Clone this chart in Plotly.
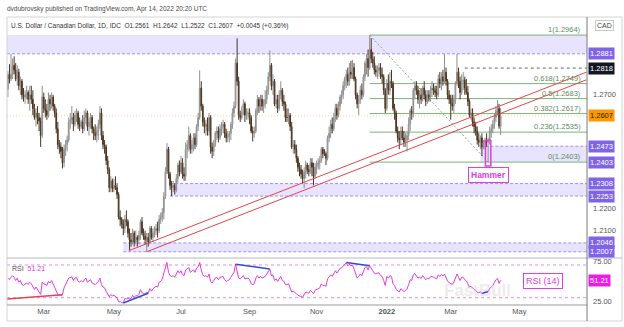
import pandas as pd
import plotly.graph_objects as go

# ---------------- USD/CAD daily candles (IDC) ----------------
dates = pd.bdate_range("2021-01-27", "2022-04-14")

opens = [
    # Jan 2021
    1.2725, 1.2790, 1.2770,
    # Feb 2021
    1.2790, 1.2830, 1.2810, 1.2770, 1.2800, 1.2740, 1.2760, 1.2700, 1.2690, 1.2700,
    1.2710, 1.2680, 1.2700, 1.2680, 1.2640, 1.2600, 1.2620, 1.2600, 1.2585, 1.2520,
    # Mar 2021
    1.2690, 1.2640, 1.2630, 1.2610, 1.2680, 1.2660, 1.2690, 1.2650, 1.2620, 1.2550,
    1.2480, 1.2470, 1.2450, 1.2400, 1.2460, 1.2480, 1.2500, 1.2580, 1.2590, 1.2600,
    1.2570, 1.2610, 1.2620,
    # Apr 2021
    1.2570, 1.2560, 1.2580, 1.2550, 1.2600, 1.2620, 1.2560, 1.2580, 1.2600, 1.2550,
    1.2530, 1.2520, 1.2540, 1.2570, 1.2620, 1.2520, 1.2480, 1.2470, 1.2410, 1.2370,
    1.2290, 1.2320,
    # May 2021
    1.2285, 1.2300, 1.2290, 1.2260, 1.2160, 1.2150, 1.2130, 1.2110, 1.2150, 1.2140,
    1.2090, 1.2060, 1.2050, 1.2090, 1.2050, 1.2070, 1.2060, 1.2080, 1.2140, 1.2090,
    1.2075,
    # Jun 2021
    1.2060, 1.2070, 1.2050, 1.2110, 1.2070, 1.2090, 1.2100, 1.2110, 1.2100, 1.2150,
    1.2160, 1.2180, 1.2250, 1.2360, 1.2460, 1.2350, 1.2300, 1.2290, 1.2300, 1.2280,
    1.2330, 1.2390,
    # Jul 2021
    1.2360, 1.2400, 1.2350, 1.2340, 1.2460, 1.2480, 1.2520, 1.2460, 1.2480, 1.2510,
    1.2480, 1.2560, 1.2600, 1.2730, 1.2650, 1.2580, 1.2560, 1.2570, 1.2540, 1.2600,
    1.2470, 1.2450,
    # Aug 2021
    1.2480, 1.2530, 1.2540, 1.2510, 1.2550, 1.2560, 1.2570, 1.2530, 1.2510, 1.2520,
    1.2530, 1.2570, 1.2620, 1.2650, 1.2840, 1.2760, 1.2610, 1.2600, 1.2620, 1.2660,
    1.2610, 1.2620,
    # Sep 2021
    1.2620, 1.2600, 1.2540, 1.2530, 1.2540, 1.2630, 1.2680, 1.2650, 1.2680, 1.2650,
    1.2660, 1.2680, 1.2720, 1.2780, 1.2830, 1.2740, 1.2760, 1.2660, 1.2680, 1.2640,
    1.2700, 1.2720,
    # Oct 2021
    1.2670, 1.2660, 1.2600, 1.2600, 1.2610, 1.2560, 1.2470, 1.2480, 1.2460, 1.2420,
    1.2380, 1.2370, 1.2350, 1.2330, 1.2360, 1.2390, 1.2370, 1.2360, 1.2400, 1.2380,
    1.2340,
    # Nov 2021
    1.2380, 1.2390, 1.2400, 1.2410, 1.2460, 1.2440, 1.2440, 1.2420, 1.2510, 1.2530,
    1.2570, 1.2550, 1.2600, 1.2640, 1.2610, 1.2650, 1.2690, 1.2700, 1.2740, 1.2770,
    1.2790, 1.2760,
    # Dec 2021
    1.2800, 1.2790, 1.2820, 1.2770, 1.2700, 1.2660, 1.2680, 1.2720, 1.2700, 1.2780,
    1.2840, 1.2860, 1.2820, 1.2900, 1.2860, 1.2840, 1.2810, 1.2800, 1.2810, 1.2820,
    1.2790, 1.2780, 1.2720,
    # Jan 2022
    1.2640, 1.2750, 1.2720, 1.2760, 1.2750, 1.2640, 1.2620, 1.2540, 1.2510, 1.2500,
    1.2540, 1.2510, 1.2490, 1.2500, 1.2520, 1.2570, 1.2630, 1.2620, 1.2720, 1.2740,
    1.2720,
    # Feb 2022
    1.2680, 1.2700, 1.2680, 1.2730, 1.2700, 1.2670, 1.2700, 1.2690, 1.2720, 1.2730,
    1.2720, 1.2710, 1.2700, 1.2770, 1.2750, 1.2780, 1.2760, 1.2800, 1.2760, 1.2700,
    # Mar 2022
    1.2680, 1.2660, 1.2650, 1.2680, 1.2750, 1.2800, 1.2760, 1.2710, 1.2760, 1.2765,
    1.2730, 1.2710, 1.2670, 1.2610, 1.2620, 1.2580, 1.2560, 1.2540, 1.2500, 1.2490,
    1.2510, 1.2470, 1.2490,
    # Apr 2022
    1.2500, 1.2490, 1.2500, 1.2540, 1.2550, 1.2570, 1.2600, 1.2630, 1.2640, 1.2561,
]

highs = [
    # Jan 2021
    1.2805, 1.2835, 1.2880,
    # Feb 2021
    1.2860, 1.2870, 1.2840, 1.2830, 1.2815, 1.2780, 1.2770, 1.2730, 1.2720, 1.2740,
    1.2720, 1.2740, 1.2740, 1.2720, 1.2660, 1.2640, 1.2650, 1.2620, 1.2600, 1.2740,
    # Mar 2021
    1.2710, 1.2680, 1.2660, 1.2710, 1.2700, 1.2710, 1.2700, 1.2660, 1.2640, 1.2580,
    1.2500, 1.2490, 1.2470, 1.2480, 1.2500, 1.2520, 1.2600, 1.2620, 1.2650, 1.2620,
    1.2630, 1.2640, 1.2630,
    # Apr 2021
    1.2600, 1.2590, 1.2610, 1.2630, 1.2640, 1.2630, 1.2600, 1.2620, 1.2610, 1.2560,
    1.2570, 1.2560, 1.2590, 1.2650, 1.2640, 1.2540, 1.2500, 1.2480, 1.2430, 1.2380,
    1.2340, 1.2330,
    # May 2021
    1.2330, 1.2340, 1.2310, 1.2270, 1.2190, 1.2160, 1.2150, 1.2170, 1.2190, 1.2150,
    1.2110, 1.2090, 1.2110, 1.2100, 1.2100, 1.2080, 1.2100, 1.2150, 1.2160, 1.2110,
    1.2100,
    # Jun 2021
    1.2090, 1.2090, 1.2120, 1.2120, 1.2110, 1.2120, 1.2130, 1.2140, 1.2170, 1.2180,
    1.2200, 1.2270, 1.2380, 1.2487, 1.2470, 1.2360, 1.2320, 1.2320, 1.2310, 1.2350,
    1.2400, 1.2410,
    # Jul 2021
    1.2430, 1.2420, 1.2380, 1.2490, 1.2500, 1.2560, 1.2530, 1.2500, 1.2530, 1.2530,
    1.2570, 1.2620, 1.2808, 1.2760, 1.2660, 1.2600, 1.2590, 1.2600, 1.2620, 1.2610,
    1.2490, 1.2500,
    # Aug 2021
    1.2540, 1.2560, 1.2560, 1.2570, 1.2580, 1.2590, 1.2580, 1.2550, 1.2540, 1.2540,
    1.2580, 1.2640, 1.2670, 1.2860, 1.2949, 1.2780, 1.2630, 1.2650, 1.2680, 1.2670,
    1.2640, 1.2640,
    # Sep 2021
    1.2640, 1.2610, 1.2560, 1.2560, 1.2640, 1.2700, 1.2690, 1.2700, 1.2700, 1.2680,
    1.2720, 1.2740, 1.2800, 1.2896, 1.2840, 1.2790, 1.2770, 1.2700, 1.2700, 1.2720,
    1.2760, 1.2730,
    # Oct 2021
    1.2700, 1.2670, 1.2640, 1.2640, 1.2620, 1.2580, 1.2500, 1.2500, 1.2480, 1.2430,
    1.2400, 1.2390, 1.2370, 1.2380, 1.2410, 1.2400, 1.2390, 1.2420, 1.2420, 1.2400,
    1.2400,
    # Nov 2021
    1.2410, 1.2420, 1.2430, 1.2470, 1.2470, 1.2460, 1.2450, 1.2520, 1.2560, 1.2590,
    1.2600, 1.2620, 1.2660, 1.2660, 1.2670, 1.2700, 1.2720, 1.2760, 1.2780, 1.2810,
    1.2820, 1.2840,
    # Dec 2021
    1.2850, 1.2854, 1.2840, 1.2780, 1.2710, 1.2700, 1.2740, 1.2750, 1.2790, 1.2850,
    1.2880, 1.2900, 1.29637, 1.2950, 1.2890, 1.2870, 1.2830, 1.2830, 1.2840, 1.2840,
    1.2820, 1.2790, 1.2730,
    # Jan 2022
    1.2770, 1.2790, 1.2800, 1.2810, 1.2760, 1.2660, 1.2630, 1.2560, 1.2540, 1.2560,
    1.2560, 1.2540, 1.2530, 1.2540, 1.2600, 1.2640, 1.2650, 1.2730, 1.2760, 1.2760,
    1.2740,
    # Feb 2022
    1.2720, 1.2730, 1.2740, 1.2760, 1.2720, 1.2720, 1.2720, 1.2740, 1.2760, 1.2750,
    1.2740, 1.2740, 1.2790, 1.2800, 1.2800, 1.2810, 1.2880, 1.2820, 1.2770, 1.2720,
    # Mar 2022
    1.2700, 1.2700, 1.2700, 1.2760, 1.2880, 1.2820, 1.2780, 1.2790, 1.2800, 1.2780,
    1.2770, 1.2740, 1.2680, 1.2640, 1.2640, 1.2600, 1.2580, 1.2560, 1.2530, 1.2520,
    1.2530, 1.2500, 1.2510,
    # Apr 2022
    1.2530, 1.2510, 1.2560, 1.2570, 1.2590, 1.2620, 1.2650, 1.2677, 1.2660, 1.2642,
]

lows = [
    # Jan 2021
    1.2690, 1.2750, 1.2760,
    # Feb 2021
    1.2770, 1.2790, 1.2760, 1.2740, 1.2720, 1.2700, 1.2680, 1.2670, 1.2660, 1.2680,
    1.2660, 1.2630, 1.2660, 1.2610, 1.2590, 1.2560, 1.2570, 1.2540, 1.2470, 1.2510,
    # Mar 2021
    1.2620, 1.2600, 1.2590, 1.2600, 1.2630, 1.2640, 1.2630, 1.2600, 1.2530, 1.2460,
    1.2440, 1.2420, 1.2375, 1.2380, 1.2430, 1.2450, 1.2490, 1.2550, 1.2570, 1.2540,
    1.2560, 1.2580, 1.2550,
    # Apr 2021
    1.2540, 1.2550, 1.2530, 1.2540, 1.2570, 1.2540, 1.2520, 1.2550, 1.2530, 1.2500,
    1.2500, 1.2490, 1.2500, 1.2550, 1.2500, 1.2460, 1.2440, 1.2390, 1.2350, 1.2270,
    1.2270, 1.2270,
    # May 2021
    1.2270, 1.2280, 1.2240, 1.2150, 1.2120, 1.2110, 1.2080, 1.2090, 1.2120, 1.2070,
    1.2013, 1.2030, 1.2040, 1.2030, 1.2040, 1.2030, 1.2040, 1.2060, 1.2080, 1.2060,
    1.2040,
    # Jun 2021
    1.2007, 1.2030, 1.2040, 1.2060, 1.2050, 1.2070, 1.2080, 1.2070, 1.2090, 1.2130,
    1.2140, 1.2150, 1.2240, 1.2350, 1.2330, 1.2280, 1.2253, 1.2270, 1.2260, 1.2270,
    1.2310, 1.2340,
    # Jul 2021
    1.2350, 1.2330, 1.2320, 1.2320, 1.2420, 1.2450, 1.2440, 1.2440, 1.2450, 1.2460,
    1.2470, 1.2540, 1.2590, 1.2630, 1.2560, 1.2530, 1.2520, 1.2520, 1.2520, 1.2440,
    1.2420, 1.2430,
    # Aug 2021
    1.2470, 1.2500, 1.2490, 1.2500, 1.2520, 1.2530, 1.2510, 1.2490, 1.2490, 1.2490,
    1.2500, 1.2550, 1.2600, 1.2640, 1.2740, 1.2590, 1.2580, 1.2590, 1.2610, 1.2580,
    1.2590, 1.2590,
    # Sep 2021
    1.2570, 1.2530, 1.2494, 1.2510, 1.2530, 1.2610, 1.2620, 1.2630, 1.2630, 1.2620,
    1.2640, 1.2660, 1.2700, 1.2760, 1.2720, 1.2700, 1.2650, 1.2640, 1.2620, 1.2630,
    1.2680, 1.2650,
    # Oct 2021
    1.2630, 1.2580, 1.2580, 1.2570, 1.2540, 1.2460, 1.2440, 1.2440, 1.2400, 1.2360,
    1.2340, 1.2330, 1.2310, 1.2288, 1.2330, 1.2350, 1.2340, 1.2350, 1.2340, 1.2300,
    1.2330,
    # Nov 2021
    1.2350, 1.2370, 1.2370, 1.2400, 1.2420, 1.2430, 1.2390, 1.2410, 1.2490, 1.2510,
    1.2530, 1.2540, 1.2580, 1.2590, 1.2600, 1.2630, 1.2660, 1.2680, 1.2720, 1.2730,
    1.2740, 1.2740,
    # Dec 2021
    1.2770, 1.2770, 1.2760, 1.2680, 1.2640, 1.2610, 1.2660, 1.2680, 1.2690, 1.2760,
    1.2790, 1.2780, 1.2810, 1.2840, 1.2820, 1.2790, 1.2780, 1.2770, 1.2780, 1.2770,
    1.2750, 1.2700, 1.2620,
    # Jan 2022
    1.2630, 1.2700, 1.2700, 1.2730, 1.2630, 1.2590, 1.2530, 1.2490, 1.2460, 1.2480,
    1.2500, 1.2470, 1.2470, 1.2450, 1.2500, 1.2540, 1.2590, 1.2600, 1.2680, 1.2700,
    1.2660,
    # Feb 2022
    1.2640, 1.2660, 1.2670, 1.2680, 1.2650, 1.2660, 1.2670, 1.2670, 1.2690, 1.2700,
    1.2690, 1.2680, 1.2690, 1.2730, 1.2720, 1.2740, 1.2750, 1.2740, 1.2680, 1.2660,
    # Mar 2022
    1.2590, 1.2630, 1.2620, 1.2660, 1.2740, 1.2730, 1.2680, 1.2700, 1.2720, 1.2700,
    1.2700, 1.2650, 1.2600, 1.2590, 1.2560, 1.2530, 1.2520, 1.2480, 1.2470, 1.2460,
    1.2430, 1.2460, 1.2460,
    # Apr 2022
    1.2470, 1.24028, 1.2480, 1.2510, 1.2530, 1.2550, 1.2580, 1.2610, 1.2550, 1.2522,
]

closes = [
    # Jan 2021
    1.2790, 1.2770, 1.2790,
    # Feb 2021
    1.2830, 1.2810, 1.2770, 1.2800, 1.2740, 1.2760, 1.2700, 1.2690, 1.2700, 1.2710,
    1.2680, 1.2700, 1.2680, 1.2640, 1.2600, 1.2620, 1.2600, 1.2585, 1.2520, 1.2690,
    # Mar 2021
    1.2640, 1.2630, 1.2610, 1.2680, 1.2660, 1.2690, 1.2650, 1.2620, 1.2550, 1.2480,
    1.2470, 1.2450, 1.2400, 1.2460, 1.2480, 1.2500, 1.2580, 1.2590, 1.2600, 1.2570,
    1.2610, 1.2620, 1.2570,
    # Apr 2021
    1.2560, 1.2580, 1.2550, 1.2600, 1.2620, 1.2560, 1.2580, 1.2600, 1.2550, 1.2530,
    1.2520, 1.2540, 1.2570, 1.2620, 1.2520, 1.2480, 1.2470, 1.2410, 1.2370, 1.2290,
    1.2320, 1.2285,
    # May 2021
    1.2300, 1.2290, 1.2260, 1.2160, 1.2150, 1.2130, 1.2110, 1.2150, 1.2140, 1.2090,
    1.2060, 1.2050, 1.2090, 1.2050, 1.2070, 1.2060, 1.2080, 1.2140, 1.2090, 1.2075,
    1.2060,
    # Jun 2021
    1.2070, 1.2050, 1.2110, 1.2070, 1.2090, 1.2100, 1.2110, 1.2100, 1.2150, 1.2160,
    1.2180, 1.2250, 1.2360, 1.2460, 1.2350, 1.2300, 1.2290, 1.2300, 1.2280, 1.2330,
    1.2390, 1.2360,
    # Jul 2021
    1.2400, 1.2350, 1.2340, 1.2460, 1.2480, 1.2520, 1.2460, 1.2480, 1.2510, 1.2480,
    1.2560, 1.2600, 1.2730, 1.2650, 1.2580, 1.2560, 1.2570, 1.2540, 1.2600, 1.2470,
    1.2450, 1.2480,
    # Aug 2021
    1.2530, 1.2540, 1.2510, 1.2550, 1.2560, 1.2570, 1.2530, 1.2510, 1.2520, 1.2530,
    1.2570, 1.2620, 1.2650, 1.2840, 1.2760, 1.2610, 1.2600, 1.2620, 1.2660, 1.2610,
    1.2620, 1.2620,
    # Sep 2021
    1.2600, 1.2540, 1.2530, 1.2540, 1.2630, 1.2680, 1.2650, 1.2680, 1.2650, 1.2660,
    1.2680, 1.2720, 1.2780, 1.2830, 1.2740, 1.2760, 1.2660, 1.2680, 1.2640, 1.2700,
    1.2720, 1.2670,
    # Oct 2021
    1.2660, 1.2600, 1.2600, 1.2610, 1.2560, 1.2470, 1.2480, 1.2460, 1.2420, 1.2380,
    1.2370, 1.2350, 1.2330, 1.2360, 1.2390, 1.2370, 1.2360, 1.2400, 1.2380, 1.2340,
    1.2380,
    # Nov 2021
    1.2390, 1.2400, 1.2410, 1.2460, 1.2440, 1.2440, 1.2420, 1.2510, 1.2530, 1.2570,
    1.2550, 1.2600, 1.2640, 1.2610, 1.2650, 1.2690, 1.2700, 1.2740, 1.2770, 1.2790,
    1.2760, 1.2800,
    # Dec 2021
    1.2790, 1.2820, 1.2770, 1.2700, 1.2660, 1.2680, 1.2720, 1.2700, 1.2780, 1.2840,
    1.2860, 1.2820, 1.2900, 1.2860, 1.2840, 1.2810, 1.2800, 1.2810, 1.2820, 1.2790,
    1.2780, 1.2720, 1.2640,
    # Jan 2022
    1.2750, 1.2720, 1.2760, 1.2750, 1.2640, 1.2620, 1.2540, 1.2510, 1.2500, 1.2540,
    1.2510, 1.2490, 1.2500, 1.2520, 1.2570, 1.2630, 1.2620, 1.2720, 1.2740, 1.2720,
    1.2680,
    # Feb 2022
    1.2700, 1.2680, 1.2730, 1.2700, 1.2670, 1.2700, 1.2690, 1.2720, 1.2730, 1.2720,
    1.2710, 1.2700, 1.2770, 1.2750, 1.2780, 1.2760, 1.2800, 1.2760, 1.2700, 1.2680,
    # Mar 2022
    1.2660, 1.2650, 1.2680, 1.2750, 1.2800, 1.2760, 1.2710, 1.2760, 1.2765, 1.2730,
    1.2710, 1.2670, 1.2610, 1.2620, 1.2580, 1.2560, 1.2540, 1.2500, 1.2490, 1.2510,
    1.2470, 1.2490, 1.2500,
    # Apr 2022
    1.2490, 1.2500, 1.2540, 1.2550, 1.2570, 1.2600, 1.2630, 1.2640, 1.2562, 1.2607,
]

# RSI(14) readings for the same sessions
rsi_values = [
    # Jan 2021
    54, 52, 55,
    # Feb 2021
    57, 55, 51, 54, 49, 51, 46, 45, 47, 48, 46, 49, 47, 44, 40, 43, 39, 37, 34, 49,
    # Mar 2021
    47, 46, 45, 50, 48, 51, 47, 44, 39, 34, 33, 33.5, 33.5, 42, 47, 50, 54, 55, 55.5,
    51, 54, 55, 50,
    # Apr 2021
    49, 51, 49, 52, 54, 49, 51, 52, 48, 47, 46, 48, 50, 54, 46, 43, 42, 38, 35, 31, 34, 32,
    # May 2021
    33, 32, 30, 25, 25, 24, 23.5, 29, 28.5, 29, 28.5, 29, 33, 30.5, 32.5, 32, 34, 40,
    36, 35, 34.5,
    # Jun 2021
    37, 35.5, 41, 38, 41, 42, 44, 43, 49, 50, 53, 60, 68, 73, 61, 57, 56, 57, 55, 59, 63, 60,
    # Jul 2021
    63, 58, 57, 64, 65, 67, 61, 62, 64, 61, 66, 68, 73, 64, 58, 56, 57, 55, 59, 50, 48, 51,
    # Aug 2021
    54, 55, 52, 55, 56, 56, 52, 50, 51, 52, 55, 59, 61, 71, 64, 54, 53, 55, 57, 53, 54, 54,
    # Sep 2021
    52, 47, 46, 47, 54, 57, 54, 56, 54, 55, 56, 59, 62, 65, 57, 58, 51, 53, 50, 54, 56, 51,
    # Oct 2021
    50, 46, 46, 47, 43, 37, 38, 37, 35, 33, 32.5, 31.5, 30.5, 34, 37, 36, 35.5, 39, 37.5,
    35, 39,
    # Nov 2021
    40, 41, 42, 47, 45, 45, 44, 53, 55, 58, 56, 60, 63, 60, 63, 66, 66.5, 69, 71, 73, 69, 71,
    # Dec 2021
    69, 70, 65, 58, 54, 56, 59, 57, 63, 67, 68, 64, 69, 65, 63, 60, 59, 60, 60.5, 57, 56,
    51, 45,
    # Jan 2022
    56, 54, 57, 56, 47, 45, 40, 38, 37, 41, 39, 37.5, 38.5, 40.5, 46, 52, 51, 58, 59.5, 57, 54,
    # Feb 2022
    55, 53.5, 57, 54, 52, 54, 53, 55.5, 56, 55, 54, 53, 58, 56, 58.5, 56.5, 59, 55, 50, 48.5,
    # Mar 2022
    47, 46, 49, 55, 59, 55, 51, 55, 55, 52, 50.5, 47, 43, 44, 41.5, 40, 39, 36.5, 36,
    37.5, 35, 36.5, 37,
    # Apr 2022
    36.5, 37.5, 41, 42.5, 45, 48.5, 52, 53.5, 47.5, 51.21,
]

for series in (opens, highs, lows, closes, rsi_values):
    assert len(series) == len(dates), len(series)

# ---------------- drawn levels and studies ----------------
zone_lows = [1.2881, 1.2403, 1.2253, 1.2007]
zone_highs = [1.2964, 1.2473, 1.2308, 1.2046]
zone_starts = [None, "2022-03-28", "2021-06-22", "2021-05-11"]   # None: from the left edge
zone_dashed_edges = [[1.2881], [1.2473], [1.2253, 1.2308], [1.2007, 1.2046]]

resistance_level = 1.2818
resistance_start = "2022-03-14"

fib_ratios = [0, 0.236, 0.382, 0.5, 0.618, 1]
fib_start = "2021-12-17"

trend_anchor_dates = ["2021-05-17", "2021-06-01"]   # lows the channel lines run through
trend_end_date = "2022-06-30"
trend_end_prices = [1.2800, 1.2766]

hammer_date = "2022-04-04"
hammer_box = [1.2386, 1.2499]
hammer_label_price = 1.2346

rsi_upper, rsi_lower = 70, 30
rsi_blue_lines = [("2021-05-11", "2021-06-02"), ("2021-08-19", "2021-09-20"),
                  ("2021-11-26", "2021-12-17"), ("2022-03-29", "2022-04-04")]
rsi_red_line_dates = ["2021-01-26 10:05", "2021-03-17"]
rsi_red_line_values = [28.4, 33.5]

price_ticks = [1.21, 1.22, 1.27]
tick_dates = ["2021-03-01", "2021-05-03", "2021-07-01", "2021-09-01", "2021-11-01",
              "2022-01-03", "2022-03-01", "2022-05-02"]
tick_text = ["Mar", "May", "Jul", "Sep", "Nov", "<b>2022</b>", "Mar", "May"]

x_start, x_end = "2021-01-26 10:05", "2022-06-30 09:36"

# ---------------- page geometry helpers ----------------
W, H = 624, 327
PL, PR, PT, PB = 7, 587, 17, 305


def px(x):
    return (x - PL) / (PR - PL)


def py(y):
    return (PB - y) / (PB - PT)


FONT = "Liberation Sans, Arial, sans-serif"
PURPLE = "#8064e8"
ZONE_FILL = "rgba(170,150,255,0.27)"
ZONE_EDGE = "#a08ff0"
FIB_GREEN = "#78b478"
MAGENTA = "#e03ce0"

price = pd.DataFrame({"o": opens, "h": highs, "l": lows, "c": closes}, index=dates)
rsi = pd.Series(rsi_values, index=dates)

fig = go.Figure()
fig.add_trace(go.Candlestick(
    x=dates, open=opens, high=highs, low=lows, close=closes,
    increasing=dict(line=dict(color="#8f8f8f", width=1), fillcolor="#cacaca"),
    decreasing=dict(line=dict(color="#4b3522", width=1), fillcolor="#956234"),
    whiskerwidth=0, hoverinfo="skip", showlegend=False, xaxis="x", yaxis="y",
))
fig.add_trace(go.Scatter(
    x=dates, y=rsi_values, mode="lines", line=dict(color=MAGENTA, width=1),
    hoverinfo="skip", showlegend=False, xaxis="x", yaxis="y2",
))

shapes = []
annotations = []


def paper_text(x, y, text, size=7.5, color="#444", xanchor="center", **kw):
    annotations.append(dict(xref="paper", yref="paper", x=px(x), y=py(y), text=text,
                            xanchor=xanchor, yanchor="middle", showarrow=False,
                            font=dict(size=size, color=color, family=FONT), **kw))


# support / resistance zones
for lo, hi, start, edges in zip(zone_lows, zone_highs, zone_starts, zone_dashed_edges):
    x0 = x_start if start is None else start
    shapes.append(dict(type="rect", xref="x", yref="y", x0=x0, x1=x_end, y0=lo, y1=hi,
                       fillcolor=ZONE_FILL, line=dict(width=0), layer="below"))
    for e in edges:
        shapes.append(dict(type="line", xref="x", yref="y", x0=x0, x1=x_end, y0=e, y1=e,
                           line=dict(color=ZONE_EDGE, width=1, dash="3px,2px"), layer="below"))

# Fibonacci retracement of the Dec high -> Apr low swing
after = price.loc[fib_start:]
fib_high, fib_high_date = after["h"].max(), after["h"].idxmax()
fib_low, fib_low_date = after["l"].min(), after["l"].idxmin()
for r in fib_ratios:
    lvl = fib_low + r * (fib_high - fib_low)
    shapes.append(dict(type="line", xref="x", yref="y", x0=fib_high_date, x1=x_end,
                       y0=lvl, y1=lvl, line=dict(color=FIB_GREEN, width=1), layer="below"))
    annotations.append(dict(xref="paper", yref="y", x=1, y=lvl, xanchor="right",
                            yanchor="bottom", xshift=-4, yshift=-1, showarrow=False,
                            text=f"{r:g}({lvl:.4f})",
                            font=dict(size=7.5, color="#5f8a5f", family=FONT)))
shapes.append(dict(type="line", xref="x", yref="y", x0=fib_high_date, y0=fib_high,
                   x1=fib_low_date, y1=fib_low,
                   line=dict(color="#8aa88a", width=1, dash="2px,2px"), layer="below"))

# horizontal resistance and last price
shapes.append(dict(type="line", xref="x", yref="y", x0=resistance_start, x1=x_end,
                   y0=resistance_level, y1=resistance_level,
                   line=dict(color="#666666", width=1, dash="3px,3px"), layer="below"))
shapes.append(dict(type="line", xref="x", yref="y", x0=x_start, x1=x_end,
                   y0=closes[-1], y1=closes[-1],
                   line=dict(color="rgba(255,152,0,0.45)", width=1, dash="1px,2px"),
                   layer="below"))

# rising channel from the 2021 lows
for d, end_price in zip(trend_anchor_dates, trend_end_prices):
    shapes.append(dict(type="line", xref="x", yref="y", x0=d, y0=price.loc[d, "l"],
                       x1=trend_end_date, y1=end_price,
                       line=dict(color="#e0464b", width=1)))

# hammer candle marker (box spans about 1.7 sessions either side of the candle)
hi_ = dates.get_loc(pd.Timestamp(hammer_date))
shapes.append(dict(type="rect", xref="x", yref="y",
                   x0=dates[hi_ - 2] + pd.Timedelta(hours=7),
                   x1=dates[hi_ + 1] + pd.Timedelta(hours=17),
                   y0=hammer_box[0], y1=hammer_box[1],
                   line=dict(color=MAGENTA, width=1.5)))
annotations.append(dict(xref="x", yref="y", x=dates[hi_], y=hammer_label_price,
                        xanchor="center", yanchor="middle", showarrow=False,
                        text="<b>Hammer</b>", font=dict(size=8.5, color=MAGENTA, family=FONT),
                        bgcolor="white", bordercolor=MAGENTA, borderwidth=1, borderpad=2))

# RSI bands and divergence lines
for lvl in (rsi_upper, rsi_lower):
    shapes.append(dict(type="line", xref="paper", yref="y2", x0=0, x1=1, y0=lvl, y1=lvl,
                       line=dict(color="#e58be5", width=1, dash="3px,3px"), layer="below"))
for d0, d1 in rsi_blue_lines:
    shapes.append(dict(type="line", xref="x", yref="y2", x0=d0, y0=rsi[d0], x1=d1, y1=rsi[d1],
                       line=dict(color="#2d4fd0", width=1.5)))
shapes.append(dict(type="line", xref="x", yref="y2",
                   x0=rsi_red_line_dates[0], y0=rsi_red_line_values[0],
                   x1=rsi_red_line_dates[1], y1=rsi_red_line_values[1],
                   line=dict(color="#e0464b", width=1.5)))

# pane frame
frame = "#d4d4d4"


def seg(x0, y0, x1, y1, color, width=1):
    shapes.append(dict(type="line", xref="paper", yref="paper", x0=px(x0), x1=px(x1),
                       y0=py(y0), y1=py(y1), line=dict(color=color, width=width)))


seg(PL, 17, 622, 17, frame)
seg(PL, 17, PL, 321, frame)
seg(622, 17, 622, 321, frame)
seg(PL, 321, 622, 321, frame)
seg(PL, 258, 622, 258, "#b8b8b8")
seg(PL, 305, PR, 305, "#9a9a9a")
seg(PR, 17, PR, 321, "#7a7a7a")

# price-scale label boxes
axis_levels = sorted(set(zone_lows + zone_highs[1:]), reverse=True)


def scale_box(yref, y, text, bg, color="white"):
    annotations.append(dict(xref="paper", yref=yref, x=1, y=y, xanchor="left",
                            yanchor="middle", xshift=1, showarrow=False, text=text,
                            bgcolor=bg, borderpad=1,
                            font=dict(size=7.5, color=color, family=FONT)))


for lvl in axis_levels:
    scale_box("y", lvl, f"{lvl:.4f}", PURPLE)
scale_box("y", resistance_level, f"{resistance_level:.4f}", "#131722")
scale_box("y", closes[-1], f"{closes[-1]:.4f}", "#ff9800", "#1a1a1a")
scale_box("y2", rsi_values[-1], f"{rsi_values[-1]:.2f}", "#e91ee6")
paper_text(604.5, 25, "CAD", size=7, color="#444",
           bordercolor="#c8c8c8", borderwidth=1, borderpad=1)

# headers
o, h, l, c = opens[-1], highs[-1], lows[-1], closes[-1]
chg = c - closes[-2]
pct = chg / closes[-2] * 100
paper_text(5, 9, "dvdubrovsky published on TradingView.com, Apr 14, 2022 20:20 UTC",
           size=6.5, color="#4a4a4a", xanchor="left")
paper_text(9, 26, (f"U.S. Dollar / Canadian Dollar, 1D, IDC  O{o:.4f}  H{h:.4f}  "
                   f"L{l:.4f}  C{c:.4f}  {chg:+.4f} ({pct:+.2f}%)"),
           size=6.5, color="#333", xanchor="left")

# RSI legend, study tag and watermark
paper_text(10, 268, (f"<span style='color:#555'>RSI</span>  "
                     f"<span style='color:{MAGENTA}'>{rsi_values[-1]:.2f}</span>"),
           size=7, xanchor="left")
paper_text(542.5, 281, "RSI (14)", size=9, color=MAGENTA,
           bgcolor="rgba(255,255,255,0.85)", bordercolor=MAGENTA, borderwidth=1, borderpad=2)
paper_text(477, 290, "<b>FastBull</b>", size=17, color="rgba(190,190,190,0.3)")

axis_font = dict(size=7.5, color="#555", family=FONT)
fig.update_layout(
    width=W, height=H,
    margin=dict(l=PL, r=W - PR, t=PT, b=H - PB, autoexpand=False),
    paper_bgcolor="white", plot_bgcolor="white",
    font=dict(family=FONT),
    showlegend=False,
    shapes=shapes,
    annotations=annotations,
    xaxis=dict(
        type="date", domain=[0, 1], anchor="y2", range=[x_start, x_end],
        rangebreaks=[dict(bounds=["sat", "mon"])],
        rangeslider=dict(visible=False),
        tickvals=tick_dates, ticktext=tick_text, tickfont=axis_font,
        showgrid=False, zeroline=False, showline=False, ticks="", automargin=False,
    ),
    yaxis=dict(
        domain=[py(257.5), 1], anchor="x", side="right",
        range=[1.19817, 1.30435],
        tickvals=price_ticks, tickformat=".4f",
        tickfont=axis_font, ticks="", ticklabelstandoff=5, automargin=False,
        showgrid=False, zeroline=False, showline=False,
    ),
    yaxis2=dict(
        domain=[0, py(258.7)], anchor="x", side="right",
        range=[21.07, 77.7], tickvals=[25, 75], tickformat=".2f",
        tickfont=axis_font, ticks="", ticklabelstandoff=5, automargin=False,
        showgrid=False, zeroline=False, showline=False,
    ),
)

fig.write_html("out.html")
